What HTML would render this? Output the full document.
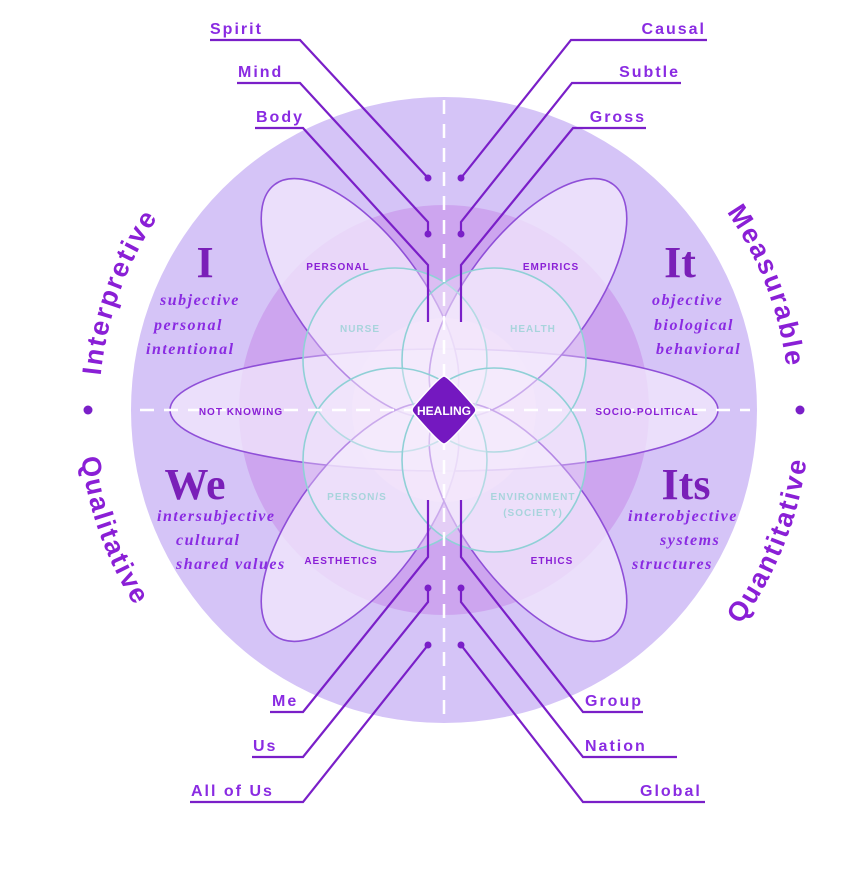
<!DOCTYPE html>
<html><head><meta charset="utf-8"><style>
html,body{margin:0;padding:0;background:#fff;}
svg{display:block;}
.lbl{font-family:"Liberation Sans",sans-serif;font-weight:bold;font-size:16px;letter-spacing:2px;fill:#8a2be2;}
.pt{font-family:"Liberation Sans",sans-serif;font-weight:bold;font-size:10px;letter-spacing:1px;fill:#8a1fd6;}
.tl{font-family:"Liberation Sans",sans-serif;font-weight:bold;font-size:10px;letter-spacing:1px;fill:#a8d4dc;}
.big{font-family:"Liberation Serif",serif;font-weight:bold;font-size:44px;fill:#7a1fb8;}
.it{font-family:"Liberation Serif",serif;font-style:italic;font-weight:bold;font-size:16px;letter-spacing:1.5px;fill:#8a2be2;}
.arc{font-family:"Liberation Sans",sans-serif;font-weight:bold;font-size:27px;letter-spacing:2px;fill:#8a1fd6;}
</style></head><body>
<svg width="856" height="876" viewBox="0 0 856 876" xmlns="http://www.w3.org/2000/svg">
<defs>
<path id="up" d="M99,410 A345,345 0 0 1 789,410"/>
<path id="dn" d="M78,410 A366,366 0 0 0 810,410"/>
</defs>
<circle cx="444" cy="410" r="313" fill="#d5c4f7"/>
<circle cx="444" cy="410" r="205" fill="#cda5ef"/>
<circle cx="444" cy="410" r="92" fill="#e3b6ee"/>
<g fill="#f1e8fc" fill-opacity="0.75" stroke="#8f4fd8" stroke-width="1.6">
<ellipse cx="444" cy="410" rx="274" ry="61"/>
<ellipse cx="360" cy="298" rx="142" ry="62" transform="rotate(53 360 298)"/>
<ellipse cx="528" cy="298" rx="142" ry="62" transform="rotate(-53 528 298)"/>
<ellipse cx="360" cy="522" rx="142" ry="62" transform="rotate(-53 360 522)"/>
<ellipse cx="528" cy="522" rx="142" ry="62" transform="rotate(53 528 522)"/>
</g>
<g fill="#f5eefd" fill-opacity="0.35" stroke="#8fd0d6" stroke-width="1.6">
<circle cx="395" cy="360" r="92"/>
<circle cx="494" cy="360" r="92"/>
<circle cx="395" cy="460" r="92"/>
<circle cx="494" cy="460" r="92"/>
</g>
<g stroke="#fff" stroke-width="2.5" stroke-dasharray="14 10">
<line x1="444" y1="100" x2="444" y2="720"/>
<line x1="140" y1="410" x2="750" y2="410"/>
</g>
<g fill="none" stroke="#7a1fc8" stroke-width="2.2">
<polyline points="210,40 300,40 428,178"/>
<polyline points="237,83 300,83 428,222 428,234"/>
<polyline points="255,128 303,128 428,265 428,322"/>
<polyline points="707,40 571,40 461,178"/>
<polyline points="681,83 572,83 461,222 461,234"/>
<polyline points="646,128 573,128 461,265 461,322"/>
<polyline points="270,712 303,712 428,557 428,500"/>
<polyline points="252,757 303,757 428,602 428,588"/>
<polyline points="190,802 303,802 428,645"/>
<polyline points="643,712 583,712 461,557 461,500"/>
<polyline points="677,757 583,757 461,602 461,588"/>
<polyline points="705,802 583,802 461,645"/>
</g>
<g fill="#7a1fc8">
<circle cx="428" cy="178" r="3.5"/><circle cx="428" cy="234" r="3.5"/>
<circle cx="461" cy="178" r="3.5"/><circle cx="461" cy="234" r="3.5"/>
<circle cx="428" cy="588" r="3.5"/><circle cx="428" cy="645" r="3.5"/>
<circle cx="461" cy="588" r="3.5"/><circle cx="461" cy="645" r="3.5"/>
<circle cx="88" cy="410" r="4.5"/><circle cx="800" cy="410" r="4.5"/>
</g>
<path d="M444,376 Q448,376 474,406 Q478,410 474,414 Q448,444 444,444 Q440,444 414,414 Q410,410 414,406 Q440,376 444,376Z" fill="#7418c0" stroke="#fff" stroke-width="1.5"/>
<text x="444" y="415" text-anchor="middle" font-family="Liberation Sans,sans-serif" font-weight="bold" font-size="12" fill="#fff">HEALING</text>
<g class="lbl">
<text x="210" y="34">Spirit</text>
<text x="238" y="77">Mind</text>
<text x="256" y="122">Body</text>
<text x="706" y="34" text-anchor="end">Causal</text>
<text x="680" y="77" text-anchor="end">Subtle</text>
<text x="646" y="122" text-anchor="end">Gross</text>
<text x="272" y="706">Me</text>
<text x="253" y="751">Us</text>
<text x="191" y="796">All of Us</text>
<text x="585" y="706">Group</text>
<text x="585" y="751">Nation</text>
<text x="640" y="796">Global</text>
</g>
<g class="pt" text-anchor="middle">
<text x="338" y="270">PERSONAL</text>
<text x="551" y="270">EMPIRICS</text>
<text x="241" y="415">NOT KNOWING</text>
<text x="647" y="415">SOCIO-POLITICAL</text>
<text x="341" y="564">AESTHETICS</text>
<text x="552" y="564">ETHICS</text>
</g>
<g class="tl" text-anchor="middle">
<text x="360" y="332">NURSE</text>
<text x="533" y="332">HEALTH</text>
<text x="357" y="500">PERSON/S</text>
<text x="533" y="500">ENVIRONMENT</text>
<text x="533" y="516">(SOCIETY)</text>
</g>
<g class="big" text-anchor="middle">
<text x="205" y="277">I</text>
<text x="680" y="277">It</text>
<text x="195" y="499">We</text>
<text x="686" y="499">Its</text>
</g>
<g class="it">
<text x="160" y="305">subjective</text>
<text x="154" y="330">personal</text>
<text x="146" y="354">intentional</text>
<text x="652" y="305">objective</text>
<text x="654" y="330">biological</text>
<text x="656" y="354">behavioral</text>
<text x="157" y="521">intersubjective</text>
<text x="176" y="545">cultural</text>
<text x="176" y="569">shared values</text>
<text x="628" y="521">interobjective</text>
<text x="660" y="545">systems</text>
<text x="632" y="569">structures</text>
</g>
<text class="arc"><textPath href="#up" startOffset="120" text-anchor="middle">Interpretive</textPath></text>
<text class="arc"><textPath href="#up" startOffset="957" text-anchor="middle">Measurable</textPath></text>
<text class="arc"><textPath href="#dn" startOffset="128" text-anchor="middle">Qualitative</textPath></text>
<text class="arc"><textPath href="#dn" startOffset="1010" text-anchor="middle">Quantitative</textPath></text>
</svg>
</body></html>
